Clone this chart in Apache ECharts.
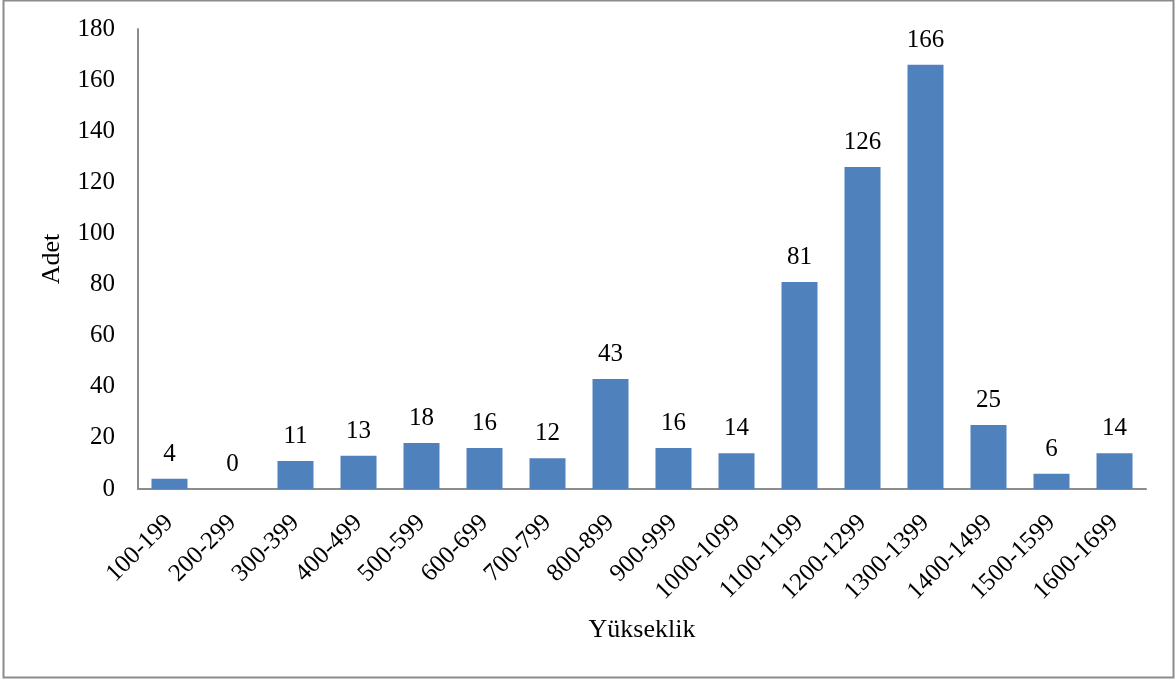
<!DOCTYPE html>
<html lang="tr">
<head>
    <meta charset="UTF-8">
    <script src="https://cdn.jsdelivr.net/npm/echarts@6/dist/echarts.min.js"></script>
    <style>
        body, html {
            margin: 0;
            height: 100%;
            background: #fff;
        }

        #chart {
            width: 1176px;
            height: 684px;
        }
    </style>
</head>
<body>
<div id="chart"></div>
<script>
    const categories = ['100-199', '200-299', '300-399', '400-499', '500-599', '600-699', '700-799', '800-899',
        '900-999', '1000-1099', '1100-1199', '1200-1299', '1300-1399', '1400-1499', '1500-1599', '1600-1699'];
    const counts = [4, 0, 11, 13, 18, 16, 12, 43, 16, 14, 81, 126, 166, 25, 6, 14];

    const serif = '"Liberation Serif", "DejaVu Serif", serif';
    const chart = echarts.init(document.getElementById('chart'));

    const option = {
        animation: false,
        backgroundColor: '#fff',
        textStyle: {fontFamily: serif},
        graphic: [{
            type: 'rect',
            shape: {x: 3.5, y: 0.5, width: 1170, height: 677},
            style: {fill: 'none', stroke: '#8c8c8c', lineWidth: 2}
        }],
        grid: {left: 138, right: 30, top: 29, bottom: 195},
        xAxis: {
            type: 'category',
            data: categories,
            name: 'Yükseklik',
            nameLocation: 'middle',
            nameGap: 128,
            nameTextStyle: {fontFamily: serif, fontSize: 26, color: '#000'},
            axisLine: {lineStyle: {color: '#8c8c8c', width: 2}},
            axisTick: {show: false},
            axisLabel: {rotate: 45, margin: 30, fontFamily: serif, fontSize: 25, color: '#000', interval: 0}
        },
        yAxis: {
            type: 'value',
            min: 0,
            max: 180,
            interval: 20,
            name: 'Adet',
            nameLocation: 'middle',
            nameGap: 73,
            nameTextStyle: {fontFamily: serif, fontSize: 26, color: '#000'},
            axisLine: {show: true, lineStyle: {color: '#8c8c8c', width: 2}},
            axisTick: {show: false},
            splitLine: {show: false},
            axisLabel: {margin: 23, fontFamily: serif, fontSize: 25, color: '#000'}
        },
        series: [{
            type: 'bar',
            data: counts,
            barWidth: 36,
            itemStyle: {color: '#4f81bd'},
            label: {
                show: true,
                position: 'top',
                distance: 12,
                fontFamily: serif,
                fontSize: 25,
                color: '#000'
            }
        }]
    };

    chart.setOption(option);
</script>
</body>
</html>
